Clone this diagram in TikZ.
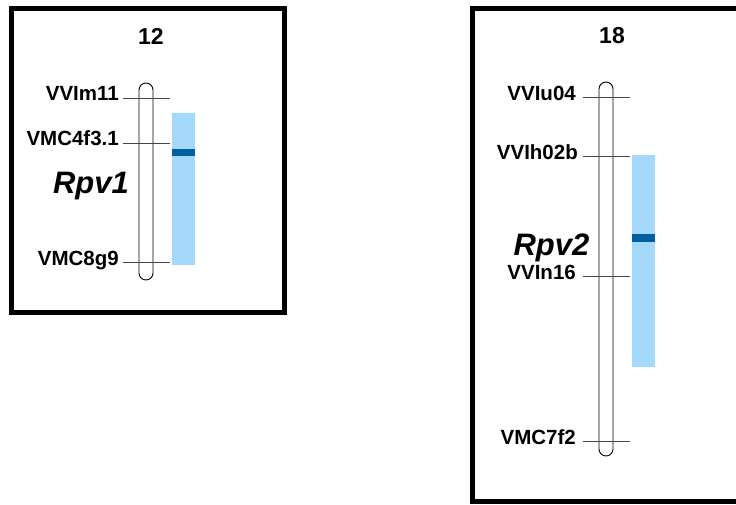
\documentclass[tikz,border=0pt]{standalone}
\usepackage{fontspec}
\setmainfont{Liberation Sans}
\usepackage{tikz}
\usepackage{xcolor}
\usetikzlibrary{positioning}
\definecolor{cQtl}{RGB}{164,217,251}
\definecolor{cPeak}{RGB}{0,96,160}
\definecolor{cTick}{RGB}{70,70,70}
\tikzset{
    panel/.style  ={draw=black, line width=5pt},
    chrom/.style  ={draw=black, line width=0.9pt, rounded corners=7pt, fill=white},
    tick/.style   ={draw=cTick, line width=0.9pt},
    mlabel/.style ={anchor=base east, inner sep=0pt, font=\fontsize{20.5}{24}\selectfont\bfseries},
    title/.style  ={anchor=base, inner sep=0pt, font=\fontsize{23}{27}\selectfont\bfseries},
    gene/.style   ={anchor=base, inner sep=0pt, font=\fontsize{31}{36}\selectfont\bfseries\itshape},
}

\begin{document}
\begin{tikzpicture}[x=1pt, y=-1pt]
    \useasboundingbox (0,0) rectangle (736,504);
    % chromosome 12
    \draw[panel] (11,8.5) rectangle (284.5,312);
    \node[title] (c12) at (151,44) {12};
    \fill[cQtl] (172,113) rectangle (195,265);
    \fill[cPeak] (172,149) rectangle (195,156);
    \draw[chrom] (139,83) rectangle (153,280);
    \coordinate (m11a) at (123,98);  \coordinate (m11b) at (170,98);
    \coordinate (m4fa) at (123,143); \coordinate (m4fb) at (170,143);
    \coordinate (m8ga) at (123,262); \coordinate (m8gb) at (170,262);
    \draw[tick] (m11a) -- (m11b);
    \draw[tick] (m4fa) -- (m4fb);
    \draw[tick] (m8ga) -- (m8gb);
    \node[mlabel] (m11) at (119,100.5) {VVIm11};
    \node[mlabel] (m4f) at (119,145.5) {VMC4f3.1};
    \node[mlabel] (m8g) at (119,265) {VMC8g9};
    \node[gene] (rpv1) at (91,193) {Rpv1};

    % chromosome 18
    \draw[panel] (745,8.5) -- (472,8.5) -- (472,501.5) -- (745,501.5);
    \node[title] (c18) at (612,43.5) {18};
    \fill[cQtl] (632,155) rectangle (655,367);
    \fill[cPeak] (632,234) rectangle (655,242);
    \draw[chrom] (599,82) rectangle (613,456);
    \coordinate (u04a) at (583,97);  \coordinate (u04b) at (630,97);
    \coordinate (h02a) at (583,156); \coordinate (h02b) at (630,156);
    \coordinate (n16a) at (583,276); \coordinate (n16b) at (630,276);
    \coordinate (m7fa) at (583,441); \coordinate (m7fb) at (630,441);
    \draw[tick] (u04a) -- (u04b);
    \draw[tick] (h02a) -- (h02b);
    \draw[tick] (n16a) -- (n16b);
    \draw[tick] (m7fa) -- (m7fb);
    \node[mlabel] (u04) at (576,100) {VVIu04};
    \node[mlabel] (h02) at (578,159.5) {VVIh02b};
    \node[mlabel] (n16) at (576,279.5) {VVIn16};
    \node[mlabel] (m7f) at (576,444.5) {VMC7f2};
    \node[gene] (rpv2) at (551.5,255) {Rpv2};
\end{tikzpicture}
\end{document}
